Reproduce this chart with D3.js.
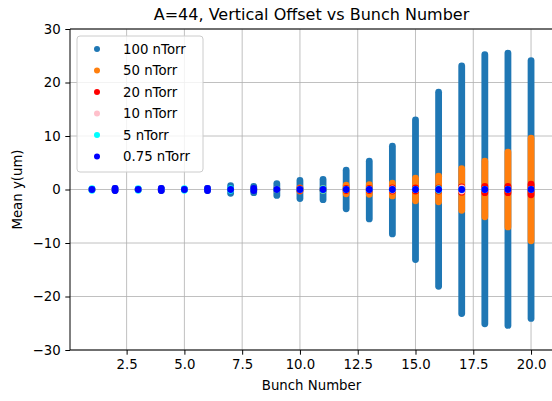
<!DOCTYPE html>
<html>
<head>
<meta charset="utf-8">
<script src="https://cdn.jsdelivr.net/npm/d3@7"></script>
<style>
  body { margin: 0; background: #fff; }
  svg { display: block; font-family: "DejaVu Sans", sans-serif; }
</style>
</head>
<body>
<svg id="chart" width="552" height="401"></svg>
<script>
// ---- data ----
const bunches = [1,2,3,4,5,6,7,8,9,10,11,12,13,14,15,16,17,18,19,20];
const seriesNames = ["100 nTorr","50 nTorr","20 nTorr","10 nTorr","5 nTorr","0.75 nTorr"];
const seriesColors = ["#1f77b4","#ff7f0e","#ff0000","#ffc0cb","#00ffff","#0000ff"];
// upper / lower extents of Mean y (um) per bunch
const hi100 = [0,0.2,0,0.2,0,0.2,0.7,0.6,1.1,1.7,1.9,3.6,5.3,8.1,13.0,18.2,23.1,25.2,25.5,24.1];
const lo100 = [0,-0.2,0,-0.2,0,-0.2,-0.7,-0.6,-1.1,-1.7,-1.9,-3.6,-5.5,-8.3,-13.1,-18.1,-23.2,-25.1,-25.4,-24.1];
const hi50  = [0,0,0,0,0,0,0,0,0,0.3,0.2,0.8,0.9,1.2,2.1,2.5,3.9,5.3,7.0,9.6];
const lo50  = [0,0,0,0,0,0,0,0,0,-0.3,-0.2,-0.8,-0.9,-1.2,-2.1,-2.3,-3.9,-5.1,-7.0,-9.6];
const hi20  = [0,0,0,0,0,0,0,0,0,0.15,0.05,0.2,0.2,0.3,0.3,0.3,0.5,0.6,0.6,1.0];
const lo20  = [0,0,0,0,0,0,0,0,0,-0.15,-0.05,-0.2,-0.2,-0.3,-0.3,-0.3,-0.5,-0.6,-0.6,-1.0];
const hi10  = [0,0,0,0,0,0,0,0,0,0,0,0,0,0.1,0,0,0.3,0,0,0];
const lo10  = [0,0,0,0,0,0,0,0,0,0,0,0,0,-0.1,0,0,-0.3,0,0,0];
const hi5   = [0.15,0,0.15,0,0.15,0,0.15,0,0,0,0.15,0,0,0,0,0.15,0,0,0,0];
const lo5   = [-0.15,0,-0.15,0,-0.15,0,-0.15,0,0,0,-0.15,0,0,0,0,-0.15,0,0,0,0];
const hi075 = [0,0.2,0,0.2,0,0.2,0,0.2,0,0,0,0,0,0,0,0,0,0,0,0];
const lo075 = [0,-0.2,0,-0.2,0,-0.2,0,-0.2,0,0,0,0,0,0,0,0,0,0,0,0];
const xTicks = [2.5,5.0,7.5,10.0,12.5,15.0,17.5,20.0];
const yTicks = [-30,-20,-10,0,10,20,30];
const titleText = "A=44, Vertical Offset vs Bunch Number";
const xLabel = "Bunch Number";
const yLabel = "Mean y(um)";

const his = [hi100,hi50,hi20,hi10,hi5,hi075];
const los = [lo100,lo50,lo20,lo10,lo5,lo075];

// ---- layout ----
const svg = d3.select("#chart");
const L = 70, T = 29, R = 553, B = 350;
const x = d3.scaleLinear().domain([0.05, 20.95]).range([L, R]);
const y = d3.scaleLinear().domain([-30, 30]).range([B, T]);
const r = 3.4;
const fs = 13.3;

// grid
svg.append("g").selectAll("line").data(xTicks).join("line")
  .attr("x1", d => x(d)).attr("x2", d => x(d)).attr("y1", T).attr("y2", B)
  .attr("stroke", "#b0b0b0").attr("stroke-width", 0.8);
svg.append("g").selectAll("line").data(yTicks).join("line")
  .attr("x1", L).attr("x2", R).attr("y1", d => y(d)).attr("y2", d => y(d))
  .attr("stroke", "#b0b0b0").attr("stroke-width", 0.8);

// data marks
seriesNames.forEach((name, si) => {
  const g = svg.append("g");
  g.selectAll("rect").data(bunches).join("rect")
    .attr("x", d => x(d) - r)
    .attr("y", (d, i) => y(his[si][i]) - r)
    .attr("width", 2 * r)
    .attr("height", (d, i) => y(los[si][i]) - y(his[si][i]) + 2 * r)
    .attr("rx", r).attr("ry", r)
    .attr("fill", seriesColors[si]);
});

// axes
const xAxis = d3.axisBottom(x).tickValues(xTicks).tickFormat(d3.format(".1f")).tickSize(4.7).tickPadding(4.7);
const yAxis = d3.axisLeft(y).tickValues(yTicks).tickFormat(d => d < 0 ? "\u2212" + Math.abs(d) : d).tickSize(4.7).tickPadding(4.7);
const gx = svg.append("g").attr("transform", `translate(0,${B})`).call(xAxis);
const gy = svg.append("g").attr("transform", `translate(${L},0)`).call(yAxis);
[gx, gy].forEach(g => {
  g.selectAll("text").attr("font-size", fs).attr("fill", "#000").attr("font-family", "DejaVu Sans, sans-serif");
  g.selectAll("line").attr("stroke", "#000").attr("stroke-width", 1);
  g.select(".domain").remove();
});
// spines
svg.append("line").attr("x1", L).attr("x2", L).attr("y1", T).attr("y2", B).attr("stroke", "#000").attr("stroke-width", 1);
svg.append("line").attr("x1", L).attr("x2", R).attr("y1", B).attr("y2", B).attr("stroke", "#000").attr("stroke-width", 1);
svg.append("line").attr("x1", L).attr("x2", R).attr("y1", T).attr("y2", T).attr("stroke", "#000").attr("stroke-width", 1);

// labels
svg.append("text").attr("x", (L + R) / 2).attr("y", 20).attr("text-anchor", "middle")
  .attr("font-size", 16).text(titleText);
svg.append("text").attr("x", (L + R) / 2).attr("y", 390).attr("text-anchor", "middle")
  .attr("font-size", fs).text(xLabel);
svg.append("text").attr("transform", `translate(22,${(T + B) / 2}) rotate(-90)`).attr("text-anchor", "middle")
  .attr("font-size", fs).text(yLabel);

// legend
const lg = svg.append("g");
lg.append("rect").attr("x", 77).attr("y", 36).attr("width", 126).attr("height", 136)
  .attr("rx", 3).attr("fill", "#fff").attr("fill-opacity", 0.8).attr("stroke", "#cccccc").attr("stroke-width", 1);
seriesNames.forEach((name, i) => {
  const yy = 49 + i * 21.5;
  lg.append("circle").attr("cx", 97).attr("cy", yy).attr("r", 3).attr("fill", seriesColors[i]);
  lg.append("text").attr("x", 123).attr("y", yy + 4.8).attr("font-size", fs).text(name);
});
</script>
</body>
</html>
